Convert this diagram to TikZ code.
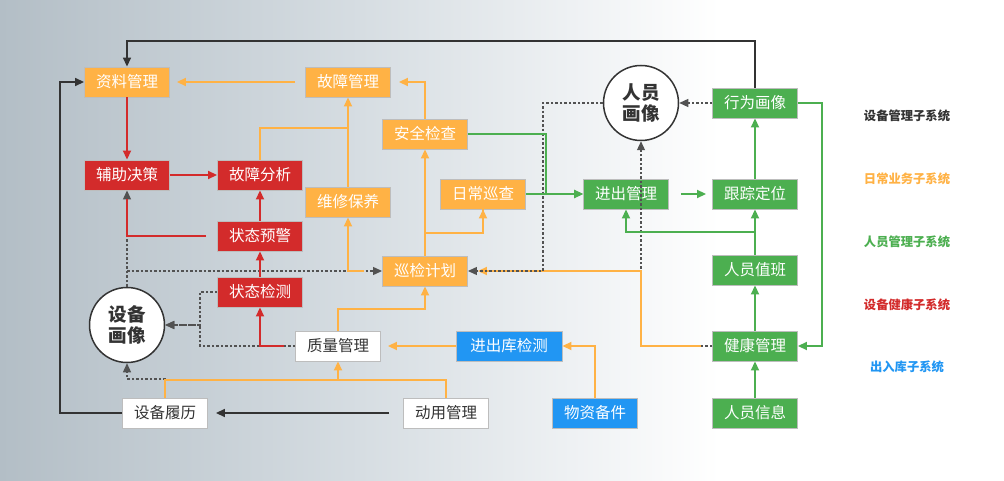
\documentclass[tikz,border=0pt]{standalone}
\usepackage{fontspec}
\newfontfamily\cjk{Noto Sans CJK SC}
\usetikzlibrary{arrows.meta,calc}
\definecolor{cO}{HTML}{FFB245}
\definecolor{cR}{HTML}{D32B2B}
\definecolor{cG}{HTML}{4CAF50}
\definecolor{cB}{HTML}{2196F3}
\definecolor{cK}{HTML}{333333}
\definecolor{bord}{HTML}{BDBDBD}
\definecolor{bgL}{HTML}{B3BEC6}
\definecolor{bgM}{HTML}{D6DDE2}
\tikzset{
  box/.style={rectangle, minimum width=85pt, minimum height=30pt, inner sep=0pt, draw=bord, line width=0.9pt, text=white, font=\cjk\fontsize{15.5}{15.5}\selectfont},
  ob/.style={box, fill=cO},
  rb/.style={box, fill=cR},
  gb/.style={box, fill=cG},
  bb/.style={box, fill=cB},
  wb/.style={box, fill=white, text=cK},
  circ/.style={circle, draw=cK, line width=1.5pt, fill=white, minimum size=75pt, inner sep=0pt, align=center, text=cK, font=\cjk\bfseries\fontsize{18.5}{21}\selectfont},
  tip/.style={-{Triangle[length=9pt,width=8pt]}},
  blk/.style={draw=cK, line width=1.5pt, tip},
  dsh/.style={draw=cK!85, line width=1.2pt, dash pattern=on 2.5pt off 2pt, tip},
  org/.style={draw=cO, line width=1.8pt, tip},
  orgn/.style={draw=cO, line width=1.8pt},
  grn/.style={draw=cG, line width=1.8pt, tip},
  red/.style={draw=cR, line width=1.8pt, tip},
  redn/.style={draw=cR, line width=1.8pt},
  leg/.style={font=\cjk\bfseries\fontsize{12.3}{12.3}\selectfont}
}
\begin{document}
\begin{tikzpicture}[x=1pt,y=-1pt]
\useasboundingbox (0,0) rectangle (1004,481);
% background
\fill[white] (0,0) rectangle (1004,481);
\shade[left color=bgL, right color=white, middle color=bgM] (0,0) rectangle (720,481);

% helper coordinates
\coordinate (y41) at (0,41);
\coordinate (x60) at (60,0);
\coordinate (y128) at (0,128);
\coordinate (y233) at (0,233);
\coordinate (y232) at (0,232);
\coordinate (y309) at (0,309);
\coordinate (y380) at (0,380);
\coordinate (x200) at (200,0);
\coordinate (x543) at (543,0);
\coordinate (x546) at (546,0);
\coordinate (x641) at (641,0);
\coordinate (x822) at (822,0);

% nodes
\node[ob] (zl) at (127,82) {资料管理};
\node[ob] (gz) at (348,82) {故障管理};
\node[rb] (fz) at (127,175) {辅助决策};
\node[rb] (gf) at (260,175) {故障分析};
\node[rb] (yj) at (260,236) {状态预警};
\node[rb] (zt) at (260,292) {状态检测};
\node[ob] (wx) at (348,202) {维修保养};
\node[ob] (aq) at (425,134) {安全检查};
\node[ob] (rc) at (483,194) {日常巡查};
\node[ob] (xj) at (425,271) {巡检计划};
\node[wb] (zm) at (338,346) {质量管理};
\node[bb, minimum width=106pt] (jck) at (509,346) {进出库检测};
\node[wb] (dy) at (446,413) {动用管理};
\node[bb] (wz) at (595,413) {物资备件};
\node[wb] (sl) at (165,413) {设备履历};
\node[circ] (sbh) at (127,325) {设备\\画像};
\node[circ] (rh) at (641,103) {人员\\画像};
\node[gb] (xw) at (755,103) {行为画像};
\node[gb] (jc) at (626,194) {进出管理};
\node[gb] (gd) at (755,194) {跟踪定位};
\node[gb] (zb) at (755,270) {人员值班};
\node[gb] (jk) at (755,346) {健康管理};
\node[gb] (xx) at (755,413) {人员信息};

% legend
\node[leg, text=cK] (l1) at (907,116) {设备管理子系统};
\node[leg, text=cO] (l2) at (907,179) {日常业务子系统};
\node[leg, text=cG] (l3) at (907,242) {人员管理子系统};
\node[leg, text=cR] (l4) at (907,305) {设备健康子系统};
\node[leg, text=cB] (l5) at (907,367) {出入库子系统};

% black solid
\draw[blk] (xw.north) -- (xw.north |- y41) -| (zl.north);
\draw[blk] (sl.west) -- (sl.west -| x60) |- (zl.west);
\draw[blk, shorten <=14pt, shorten >=8pt] (dy.west) -- (sl.east);

% black dashed (below colored)
\draw[dsh] (sbh.north) -- (fz.south);
\draw[dsh] (sbh.north |- xj.west) -- (xj.west);
\draw[dsh] (zt.west) -- (zt.west -| x200) |- (sbh.east);
\draw[dsh] (zm.west) -- (zm.west -| x200) |- (sbh.east);
\draw[dsh] (sl.north) -- (sl.north |- 0,379) -| (sbh.south);
\draw[dsh] (xw.west) -- (rh.east);
\draw[dsh] (jk.west) -| (rh.south);

% orange
\draw[org, shorten <=10pt, shorten >=7pt] (gz.west) -- (zl.east);
\draw[org, shorten >=8pt] (aq.north) |- (gz.east);
\draw[org] (wx.north) -- (gz.south);
\draw[orgn] (gf.north) |- (wx.north |- y128);
\draw[org, shorten <=18pt] (xj.west) -| (wx.south);
\draw[org] (xj.north) -- (aq.south);
\draw[orgn] (xj.north |- y233) -| (rc.south);
\draw[tip, draw=cO, line width=1.8pt] (rc.south |- y233) -- (rc.south);
\draw[org] (zm.north) |- (xj.south |- y309) -- (xj.south);
\draw[org, shorten >=7pt] (jck.west) -- (zm.east);
\draw[org] (wz.north) |- (jck.east);
\draw[orgn] (sl.north) |- (dy.north |- y380) -- (dy.north);
\draw[org] (zm.south |- y380) -- (zm.south);
\draw[org, shorten <=11pt, shorten >=10pt] (jk.west) -- (jk.west -| x641) |- (xj.east);

% dashed from person portrait to patrol plan (on top)
\draw[dsh] (rh.west) -- (rh.west -| x543) |- (xj.east);

% green
\draw[grn] (aq.east) -- (aq.east -| x546) |- (jc.west);
\draw[grn] (rc.east) -- (jc.west);
\draw[grn, shorten <=12pt, shorten >=6pt] (jc.east) -- (gd.west);
\draw[grn] (gd.north) -- (xw.south);
\draw[grn] (zb.north) -- (gd.south);
\draw[grn] (zb.north |- y232) -| (jc.south);
\draw[grn] (jk.north) -- (zb.south);
\draw[grn] (xx.north) -- (jk.south);
\draw[grn] (xw.east) -- (xw.east -| x822) |- (jk.east);

% red
\draw[red] (zl.south) -- (fz.north);
\draw[red] (fz.east) -- (gf.west);
\draw[red] (yj.north) -- (gf.south);
\draw[red] (zt.north) -- (yj.south);
\draw[red, shorten <=11pt] (zm.west) -| (zt.south);
\draw[redn, shorten <=11pt] (yj.west) -- (yj.west -| fz.south) -- ($(fz.south)+(0,9)$);
\end{tikzpicture}
\end{document}
